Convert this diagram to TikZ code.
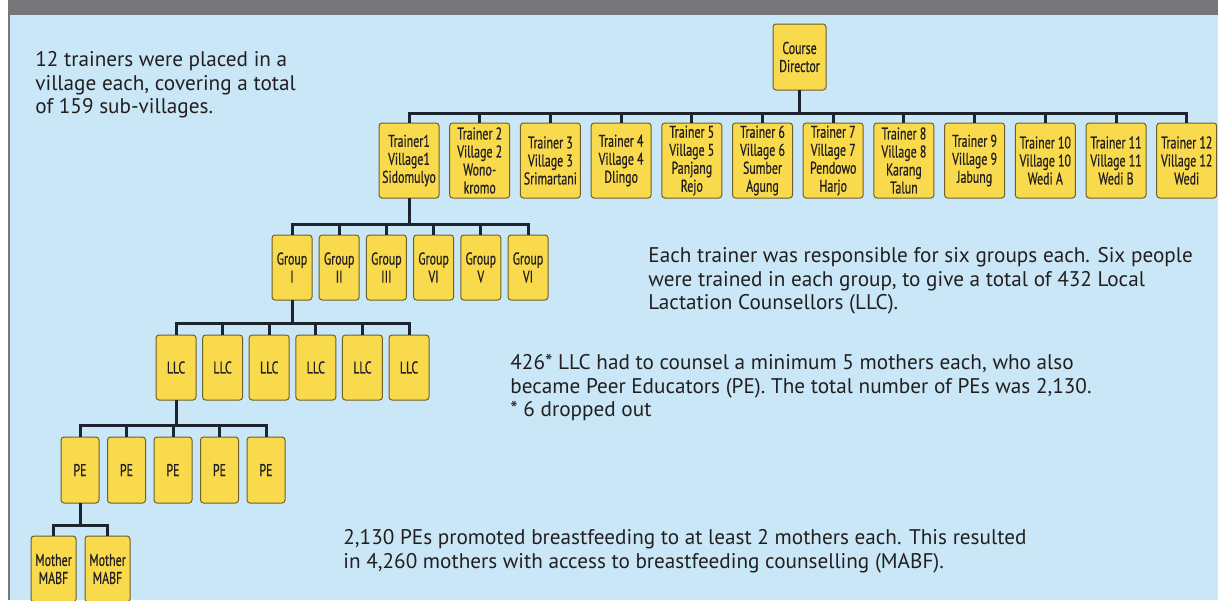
\documentclass[tikz,border=0pt]{standalone}
\usepackage{fontspec}
\setmainfont{PT Sans}
\newfontfamily\boxfont[FakeStretch=0.7, FakeBold=0.6]{PT Sans}
\usetikzlibrary{positioning}
\definecolor{skyblue}{RGB}{201,231,247}
\definecolor{boxyellow}{RGB}{248,218,76}
\definecolor{boxedge}{RGB}{110,96,40}
\definecolor{linkdark}{RGB}{28,36,46}
\definecolor{bargrey}{RGB}{119,119,121}
\definecolor{inkdark}{RGB}{35,31,32}

\begin{document}
\begin{tikzpicture}[x=0.5pt, y=-0.5pt,
        box/.style={draw=boxedge, line width=0.5pt, fill=boxyellow, rounded corners=1.5pt, inner sep=0pt, outer sep=0pt, align=center, text=inkdark, font=\boxfont\fontsize{8.5}{9}\selectfont},
        director/.style={box, minimum width=26.5pt, minimum height=33pt},
        trainer/.style={box, minimum width=30pt, minimum height=37.5pt},
        group/.style={box, minimum width=20pt, minimum height=32.5pt},
        pebox/.style={box, minimum width=19pt, minimum height=33pt},
        mother/.style={box, minimum width=22.5pt, minimum height=33pt},
        link/.style={draw=linkdark, line width=1.5pt},
        note/.style={anchor=north west, align=left, inner sep=0pt, text=inkdark, font=\fontsize{10.6}{11.8}\selectfont}
    ]
        \useasboundingbox (0,0) rectangle (1218,600);
        % Frame
        \fill [white] (0,0) rectangle (1218,600);
        \fill [skyblue] (9,15) rectangle (1218,600);
        \fill [bargrey] (8,0) rectangle (1218,15);
        \draw [bargrey, line width=1pt] (9,15) -- (9,600);

        % Director and trainers
        \node [director] (dir) at (799.5,57) {Course\\Director};
        \node [trainer] (t1) at (409,160.5) {Trainer1\\Village1\\Sidomulyo};
        \node [trainer, right=5.35pt of t1] (t2) {Trainer 2\\Village 2\\Wono-\\kromo};
        \node [trainer, right=5.35pt of t2] (t3) {Trainer 3\\Village 3\\Srimartani};
        \node [trainer, right=5.35pt of t3] (t4) {Trainer 4\\Village 4\\Dlingo};
        \node [trainer, right=5.35pt of t4] (t5) {Trainer 5\\Village 5\\Panjang\\Rejo};
        \node [trainer, right=5.35pt of t5] (t6) {Trainer 6\\Village 6\\Sumber\\Agung};
        \node [trainer, right=5.35pt of t6] (t7) {Trainer 7\\Village 7\\Pendowo\\Harjo};
        \node [trainer, right=5.35pt of t7] (t8) {Trainer 8\\Village 8\\Karang\\Talun};
        \node [trainer, right=5.35pt of t8] (t9) {Trainer 9\\Village 9\\Jabung};
        \node [trainer, right=5.35pt of t9] (t10) {Trainer 10\\Village 10\\Wedi A};
        \node [trainer, right=5.35pt of t10] (t11) {Trainer 11\\Village 11\\Wedi B};
        \node [trainer, right=5.35pt of t11] (t12) {Trainer 12\\Village 12\\Wedi};

        \draw [link] (dir.south) -- ++(0,-11.5pt) -| (t1.north);
        \draw [link] (dir.south) -- ++(0,-11.5pt) -| (t2.north);
        \draw [link] (dir.south) -- ++(0,-11.5pt) -| (t3.north);
        \draw [link] (dir.south) -- ++(0,-11.5pt) -| (t4.north);
        \draw [link] (dir.south) -- ++(0,-11.5pt) -| (t5.north);
        \draw [link] (dir.south) -- ++(0,-11.5pt) -| (t6.north);
        \draw [link] (dir.south) -- ++(0,-11.5pt) -| (t7.north);
        \draw [link] (dir.south) -- ++(0,-11.5pt) -| (t8.north);
        \draw [link] (dir.south) -- ++(0,-11.5pt) -| (t9.north);
        \draw [link] (dir.south) -- ++(0,-11.5pt) -| (t10.north);
        \draw [link] (dir.south) -- ++(0,-11.5pt) -| (t11.north);
        \draw [link] (dir.south) -- ++(0,-11.5pt) -| (t12.north);

        % Groups
        \node [group] (g1) at (292,267.5) {Group\\I};
        \node [group, right=3.6pt of g1] (g2) {Group\\II};
        \node [group, right=3.6pt of g2] (g3) {Group\\III};
        \node [group, right=3.6pt of g3] (g4) {Group\\VI};
        \node [group, right=3.6pt of g4] (g5) {Group\\V};
        \node [group, right=3.6pt of g5] (g6) {Group\\VI};

        \draw [link] (t1.south) -- ++(0,-13pt) -| (g1.north);
        \draw [link] (t1.south) -- ++(0,-13pt) -| (g2.north);
        \draw [link] (t1.south) -- ++(0,-13pt) -| (g3.north);
        \draw [link] (t1.south) -- ++(0,-13pt) -| (g4.north);
        \draw [link] (t1.south) -- ++(0,-13pt) -| (g5.north);
        \draw [link] (t1.south) -- ++(0,-13pt) -| (g6.north);

        % Local Lactation Counsellors
        \node [group] (l1) at (176,367.5) {LLC};
        \node [group, right=3.3pt of l1] (l2) {LLC};
        \node [group, right=3.3pt of l2] (l3) {LLC};
        \node [group, right=3.3pt of l3] (l4) {LLC};
        \node [group, right=3.3pt of l4] (l5) {LLC};
        \node [group, right=3.3pt of l5] (l6) {LLC};

        \draw [link] (g1.south) -- ++(0,-11.5pt) -| (l1.north);
        \draw [link] (g1.south) -- ++(0,-11.5pt) -| (l2.north);
        \draw [link] (g1.south) -- ++(0,-11.5pt) -| (l3.north);
        \draw [link] (g1.south) -- ++(0,-11.5pt) -| (l4.north);
        \draw [link] (g1.south) -- ++(0,-11.5pt) -| (l5.north);
        \draw [link] (g1.south) -- ++(0,-11.5pt) -| (l6.north);

        % Peer Educators
        \node [pebox] (p1) at (80,470) {PE};
        \node [pebox, right=4.25pt of p1] (p2) {PE};
        \node [pebox, right=4.25pt of p2] (p3) {PE};
        \node [pebox, right=4.25pt of p3] (p4) {PE};
        \node [pebox, right=4.25pt of p4] (p5) {PE};

        \draw [link] (l1.south) -- ++(0,-12.5pt) -| (p1.north);
        \draw [link] (l1.south) -- ++(0,-12.5pt) -| (p2.north);
        \draw [link] (l1.south) -- ++(0,-12.5pt) -| (p3.north);
        \draw [link] (l1.south) -- ++(0,-12.5pt) -| (p4.north);
        \draw [link] (l1.south) -- ++(0,-12.5pt) -| (p5.north);

        % Mothers
        \node [mother] (m1) at (53.5,569) {Mother\\MABF};
        \node [mother, right=4.5pt of m1] (m2) {Mother\\MABF};

        \draw [link] (p1.south) -- ++(0,-11pt) -| (m1.north);
        \draw [link] (p1.south) -- ++(0,-11pt) -| (m2.north);

        % Notes
        \node [note] (n1) at (35,51) {12 trainers were placed in a\\village each, covering a total\\of 159 sub-villages.};
        \node [note] (n2) at (648,247) {Each trainer was responsible for six groups each. Six people\\were trained in each group, to give a total of 432 Local\\Lactation Counsellors (LLC).};
        \node [note] (n3) at (510,354) {426* LLC had to counsel a minimum 5 mothers each, who also\\became Peer Educators (PE). The total number of PEs was 2,130.\\* 6 dropped out};
        \node [note] (n4) at (343,529) {2,130 PEs promoted breastfeeding to at least 2 mothers each. This resulted\\in 4,260 mothers with access to breastfeeding counselling (MABF).};
    \end{tikzpicture}
\end{document}
